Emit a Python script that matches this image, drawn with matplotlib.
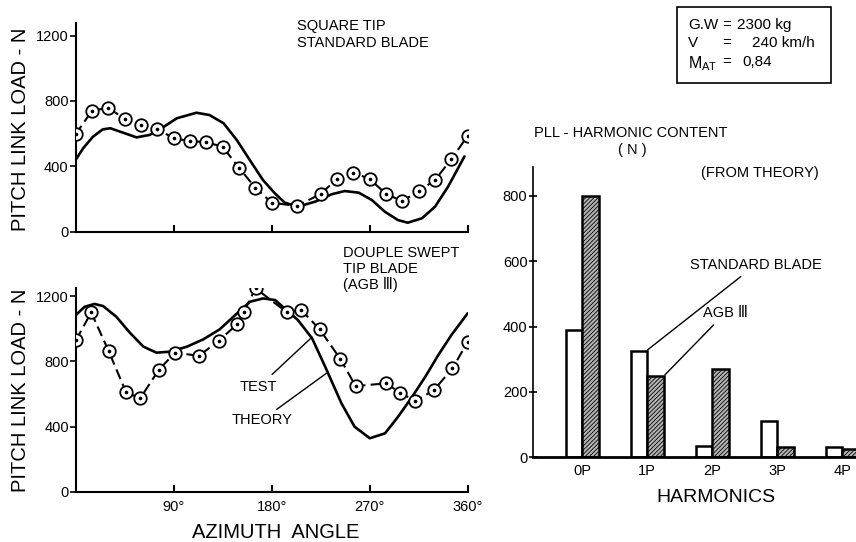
import matplotlib
matplotlib.use("Agg")
import matplotlib.pyplot as plt

plt.rcParams['font.family'] = ['Liberation Sans', 'DejaVu Sans']
plt.rcParams['hatch.linewidth'] = 0.6

# ---- Pitch link load vs azimuth: square tip standard blade ----
std_test_az = [0, 15, 30, 45, 60, 75, 90, 105, 120, 135, 150, 165, 180,
               203, 225, 240, 255, 270, 285, 300, 315, 330, 345, 360]
std_test_load = [595, 739, 759, 690, 655, 630, 571, 555, 547, 520, 391, 269, 177,
                 156, 230, 322, 361, 322, 230, 187, 246, 316, 443, 587]
std_theory_az = [0, 7, 16, 25, 32, 41, 56, 68, 79, 93, 111, 123, 136, 148, 160,
                 172, 183, 192, 204, 220, 235, 247, 260, 272, 284, 296, 305, 318,
                 330, 342, 357]
std_theory_load = [438, 510, 581, 626, 633, 612, 577, 592, 633, 694, 728, 714, 663,
                   561, 438, 316, 234, 177, 152, 183, 228, 248, 238, 193, 121, 70,
                   54, 81, 152, 275, 460]

# ---- Pitch link load vs azimuth: double swept tip blade (AGB III) ----
agb_test_az = [0, 14, 30, 46, 59, 76, 91, 113, 131, 148, 154, 165, 194, 207,
               224, 243, 257, 285, 298, 312, 329, 346, 360]
agb_test_load = [931, 1100, 863, 610, 573, 747, 853, 834, 925, 1027, 1100, 1248,
                 1100, 1115, 996, 814, 648, 665, 607, 556, 624, 757, 920]
agb_theory_az = [0, 8, 17, 25, 37, 50, 62, 74, 86, 102, 117, 132, 148, 160, 172,
                 183, 204, 217, 229, 244, 256, 270, 284, 296, 308, 321, 333, 345, 360]
agb_theory_load = [1085, 1135, 1152, 1139, 1074, 972, 890, 853, 859, 890, 935, 996,
                   1094, 1166, 1186, 1176, 1053, 941, 767, 542, 399, 328, 358, 460,
                   573, 705, 839, 961, 1095]

# ---- Harmonic content (from theory) ----
harmonics = ['0P', '1P', '2P', '3P', '4P']
harm_standard = [390, 325, 35, 110, 30]
harm_agb = [800, 250, 270, 30, 25]

W, H = 856, 542
fig = plt.figure(figsize=(W / 100, H / 100), dpi=100)


def fpos(x, y):
    return x / W, 1 - y / H


def axes_px(left, top, right, bottom):
    return fig.add_axes([left / W, 1 - bottom / H, (right - left) / W, (bottom - top) / H])


LW_SPINE = 1.5


def style_azimuth_axes(ax, ymax, show_xlabels):
    ax.set_xlim(0, 360)
    ax.set_ylim(0, ymax)
    for s in ('top', 'right'):
        ax.spines[s].set_visible(False)
    for s in ('left', 'bottom'):
        ax.spines[s].set_linewidth(LW_SPINE)
    ax.set_yticks([0, 400, 800, 1200])
    ax.set_xticks([90, 180, 270, 360])
    if show_xlabels:
        ax.set_xticklabels(['90°', '180°', '270°', '360°'])
    else:
        ax.set_xticklabels([])
    ax.tick_params(axis='y', direction='out', length=4, width=1.2, pad=1, labelsize=10.5)
    ax.tick_params(axis='x', direction='in', length=5, width=1.5, pad=6, labelsize=10.5)


def draw_curves(ax, taz, tload, thaz, thload):
    ax.plot(thaz, thload, color='black', lw=1.9, solid_capstyle='round', zorder=2)
    ax.plot(taz, tload, color='black', lw=1.5, ls=(0, (5, 2.5)), zorder=3)
    ax.plot(taz, tload, ls='none', marker='o', ms=9, mfc='white', mec='black',
            mew=1.3, zorder=4)
    ax.plot(taz, tload, ls='none', marker='o', ms=1.6, mfc='black', mec='black',
            zorder=5)


# top: standard blade
ax1 = axes_px(75.5, 22.7, 467.7, 231.5)
style_azimuth_axes(ax1, 1280, False)
draw_curves(ax1, std_test_az, std_test_load, std_theory_az, std_theory_load)

# bottom: AGB III
ax2 = axes_px(76, 288, 467.7, 491.7)
style_azimuth_axes(ax2, 1250, True)
draw_curves(ax2, agb_test_az, agb_test_load, agb_theory_az, agb_theory_load)

ax2.annotate('TEST', xy=(217, 949), xytext=(185, 642), fontsize=10.5,
             ha='right', va='center',
             arrowprops=dict(arrowstyle='-', lw=1.0, color='black', shrinkA=3, shrinkB=0))
ax2.annotate('THEORY', xy=(230, 726), xytext=(199, 440), fontsize=10.5,
             ha='right', va='center',
             arrowprops=dict(arrowstyle='-', lw=1.0, color='black', shrinkA=1, shrinkB=0))

# axis titles for the azimuth plots
fig.text(*fpos(21, 129), 'PITCH LINK LOAD - N', rotation=90, ha='center',
         va='center', fontsize=14.5)
fig.text(*fpos(21, 390), 'PITCH LINK LOAD - N', rotation=90, ha='center',
         va='center', fontsize=14.5)
fig.text(*fpos(276, 532), 'AZIMUTH  ANGLE', ha='center', va='center', fontsize=14.5)

fig.text(*fpos(297, 26), 'SQUARE TIP', ha='left', va='center', fontsize=10.5)
fig.text(*fpos(297, 43), 'STANDARD BLADE', ha='left', va='center', fontsize=10.5)
fig.text(*fpos(343, 253), 'DOUPLE SWEPT', ha='left', va='center', fontsize=10.5)
fig.text(*fpos(343, 269), 'TIP BLADE', ha='left', va='center', fontsize=10.5)
fig.text(*fpos(343, 284), '(AGB Ⅲ)', ha='left', va='center', fontsize=10.5)

# ---- bar chart ----
ax3 = axes_px(533, 166.7, 856, 457.3)
x = list(range(len(harmonics)))
bw = 0.25
ax3.bar([i - bw for i in x], harm_standard, width=bw, align='edge',
        facecolor='white', edgecolor='black', linewidth=1.8, zorder=2)
ax3.bar(x, harm_agb, width=bw, align='edge', facecolor='#b4b4b4',
        edgecolor='black', hatch='////////', linewidth=1.8, zorder=2)
ax3.set_xlim(-0.758, 4.21)
ax3.set_ylim(0, 889)
for s in ('top', 'right'):
    ax3.spines[s].set_visible(False)
ax3.spines['left'].set_linewidth(1.2)
ax3.spines['bottom'].set_linewidth(2.0)
ax3.set_xticks(x)
ax3.set_xticklabels(harmonics)
ax3.set_yticks([0, 200, 400, 600, 800])
ax3.tick_params(axis='x', length=0, pad=5, labelsize=10.5)
ax3.tick_params(axis='y', direction='inout', length=6, width=1.2, pad=1, labelsize=10.5)
fig.text(*fpos(716, 498), 'HARMONICS', ha='center', va='center', fontsize=14)

ax3.annotate('STANDARD BLADE', xy=(1.0, 328), xytext=(1.65, 588), fontsize=10.5,
             ha='left', va='center',
             arrowprops=dict(arrowstyle='-', lw=1.0, color='black', shrinkA=2, shrinkB=0))
ax3.annotate('AGB Ⅲ', xy=(1.27, 252), xytext=(1.85, 441), fontsize=10.5,
             ha='left', va='center',
             arrowprops=dict(arrowstyle='-', lw=1.0, color='black', shrinkA=2, shrinkB=0))

fig.text(*fpos(631, 133), 'PLL - HARMONIC CONTENT', ha='center', va='center', fontsize=10.5)
fig.text(*fpos(632, 150), '( N )', ha='center', va='center', fontsize=10.5)
fig.text(*fpos(760, 173), '(FROM THEORY)', ha='center', va='center', fontsize=10.5)

# flight condition box
box = plt.Rectangle(fpos(677, 83), (831 - 677) / W, (83 - 7) / H, transform=fig.transFigure,
                    facecolor='white', edgecolor='black', lw=1.2)
fig.patches.append(box)
fig.text(*fpos(688, 25), 'G.W', ha='left', va='center', fontsize=11)
fig.text(*fpos(722, 25), '=', ha='left', va='center', fontsize=11)
fig.text(*fpos(737, 25), '2300 kg', ha='left', va='center', fontsize=11)
fig.text(*fpos(688, 43), 'V', ha='left', va='center', fontsize=11)
fig.text(*fpos(722, 43), '=', ha='left', va='center', fontsize=11)
fig.text(*fpos(752, 43), '240 km/h', ha='left', va='center', fontsize=11)
fig.text(*fpos(688, 64), r'M$_{\mathregular{AT}}$', ha='left', va='center', fontsize=11.5)
fig.text(*fpos(722, 62), '=', ha='left', va='center', fontsize=11)
fig.text(*fpos(742, 62), '0,84', ha='left', va='center', fontsize=11)

fig.savefig('out.png', dpi=100, facecolor='white')
